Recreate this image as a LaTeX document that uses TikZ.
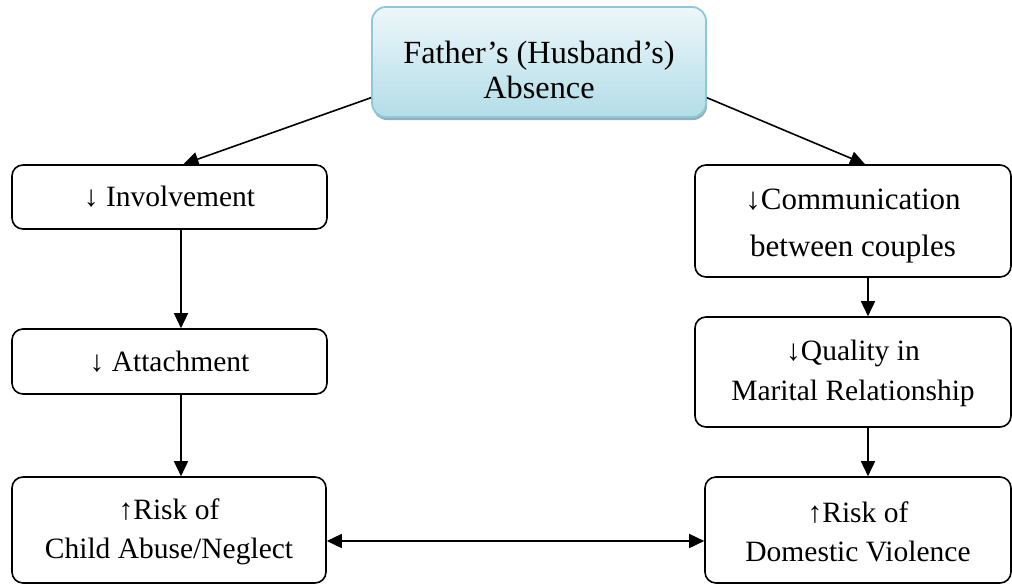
\documentclass[tikz,border=0pt]{standalone}
\usepackage{fontspec}
\setmainfont{Liberation Serif}
\usetikzlibrary{arrows.meta,shadows,calc}
\definecolor{headtop}{HTML}{EDF7FA}
\definecolor{headbot}{HTML}{B3DDE8}
\definecolor{headedge}{HTML}{8DC9D9}
\definecolor{headshade}{HTML}{7D9AA6}
\begin{document}
\begin{tikzpicture}[x=1pt,y=-1pt,
  box/.style={draw,line width=1.6pt,rounded corners=11pt,inner sep=0pt},
  txt/.style={align=center,inner sep=0pt,font=\fontsize{29.5}{39}\selectfont},
  headbox/.style={draw=headedge,line width=1.8pt,rounded corners=14pt,inner sep=0pt,
    top color=headtop,bottom color=headbot,
    drop shadow={shadow xshift=1pt,shadow yshift=-3pt,fill=headshade,opacity=0.8}},
  tip/.tip={Triangle[length=15pt,width=14pt]},
  arr/.style={line width=1.6pt,-tip},
  dblarr/.style={line width=1.6pt,tip-tip},
]
\useasboundingbox (0,0) rectangle (1012,584);

% head of the chart
\node[headbox,minimum width=334pt,minimum height=110pt] (abs) at (539,62) {};
\node[txt,font=\fontsize{32.3}{35.5}\selectfont] (abstext) at ($(abs.center)+(0,8)$)
  {Father’s (Husband’s)\\Absence};

% left column: father-child line
\node[box,minimum width=315pt,minimum height=64pt] (inv) at (169.5,197) {};
\node[txt] (invtext) at (inv.center) {↓ Involvement};
\node[box,minimum width=315pt,minimum height=65pt] (att) at (169.5,361.5) {};
\node[txt] (atttext) at (att.center) {↓ Attachment};
\node[box,minimum width=314pt,minimum height=106pt] (child) at (169,530) {};
\node[txt] (childtext) at ($(child.center)+(0,2)$) {↑Risk of\\Child Abuse/Neglect};

% right column: couple line
\node[box,minimum width=316pt,minimum height=112pt] (comm) at (853,221) {};
\node[txt,font=\fontsize{31}{47}\selectfont] (commtext) at ($(comm.center)+(0,5.5)$)
  {↓Communication\\between couples};
\node[box,minimum width=316pt,minimum height=110pt] (qual) at (853,372) {};
\node[txt,font=\fontsize{29.5}{40}\selectfont] (qualtext) at ($(qual.center)+(0,1)$)
  {↓Quality in\\Marital Relationship};
\node[box,minimum width=306pt,minimum height=106pt] (dom) at (858,530) {};
\node[txt] (domtext) at ($(dom.center)+(0,2)$) {↑Risk of\\Domestic Violence};

% connectors
\draw[arr] (abs.192) -- ($(inv.north)+(14,0)$);
\draw[arr] (abs.-12) -- ($(comm.north)+(12,0)$);
\draw[arr] ($(inv.south)+(11.5,0)$) -- ($(att.north)+(11.5,0)$);
\draw[arr] ($(att.south)+(11.5,0)$) -- ($(child.north)+(12,0)$);
\draw[arr] ($(comm.south)+(15,0)$) -- ($(qual.north)+(15,0)$);
\draw[arr] ($(qual.south)+(15,0)$) -- ($(dom.north)+(10,0)$);
\draw[dblarr] ($(child.east)+(0,11)$) -- ($(dom.west)+(0,11)$);
\end{tikzpicture}
\end{document}
